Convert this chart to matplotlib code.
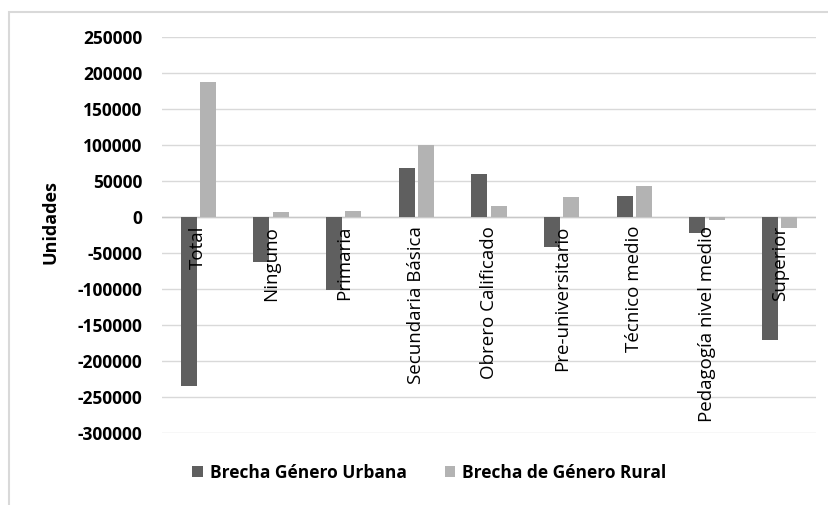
import matplotlib.pyplot as plt
import numpy as np
from matplotlib.patches import Rectangle

categorias = ["Total", "Ninguno", "Primaria", "Secundaria Básica", "Obrero Calificado",
              "Pre-universitario", "Técnico medio", "Pedagogía nivel medio", "Superior"]
urbana = [-235000, -62000, -101000, 68500, 59500, -41000, 29500, -22500, -171000]
rural = [187500, 6500, 8000, 100000, 15500, 28000, 43500, -4000, -15000]
yticks = list(range(-300000, 250001, 50000))

plt.rcParams['font.family'] = ['Open Sans', 'DejaVu Sans']

fig = plt.figure(figsize=(8.29, 5.05), dpi=100)
ax = fig.add_axes([0.1954, 0.1426, 0.7889, 0.7841])

x = np.arange(len(categorias))
w = 0.22
ax.bar(x - 0.135, urbana, w, color='#5f5f5f', label='Brecha Género Urbana', zorder=3)
ax.bar(x + 0.135, rural, w, color='#b3b3b3', label='Brecha de Género Rural', zorder=3)

ax.set_xlim(-0.5, len(categorias) - 0.5)
ax.set_ylim(-300000, 250000)
ax.set_yticks(yticks)
ax.set_yticklabels([str(v) for v in yticks], fontweight='bold', fontsize=12.5)
ax.tick_params(axis='y', length=0, pad=14)
ax.set_xticks([])
for s in ax.spines.values():
    s.set_visible(False)
ax.grid(axis='y', color='#d9d9d9', linewidth=1, zorder=0)
ax.axhline(0, color='#c8c8c8', linewidth=1, zorder=2)

for i, c in enumerate(categorias):
    ax.text(i, -12000, c, rotation=90, ha='center', va='top', fontsize=13.5, zorder=4)

ax.set_ylabel('Unidades', fontweight='bold', fontsize=13)
ax.yaxis.set_label_coords(-0.157, 0.533)

fig.legend(loc='lower center', bbox_to_anchor=(0.518, 0.015), ncol=2, frameon=False,
           prop={'weight': 'bold', 'size': 12.5}, handlelength=0.6, handleheight=0.6,
           columnspacing=2.2, handletextpad=0.4)

fig.patches.append(Rectangle((9 / 829, -0.1), 1.2, 1.1 - 12 / 505, transform=fig.transFigure,
                             fill=False, edgecolor='#d9d9d9', linewidth=1.5))

fig.savefig('out.png', dpi=100)
